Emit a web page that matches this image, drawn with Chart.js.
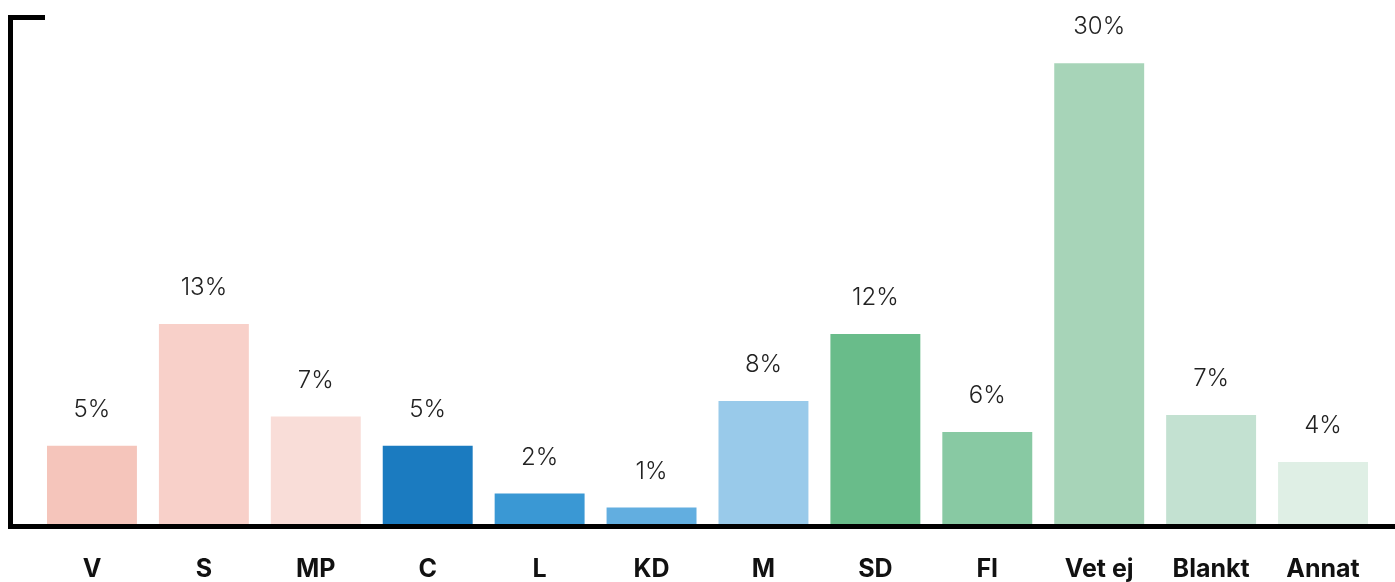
<!DOCTYPE html>
<html>
<head>
<meta charset="utf-8">
<script src="https://cdn.jsdelivr.net/npm/chart.js@4"></script>
<style>
  html, body { margin: 0; padding: 0; background: #fff; }
  #wrap { width: 1395px; height: 582px; position: relative; }
</style>
</head>
<body>
<div id="wrap"><canvas id="partyChart"></canvas></div>
<script>
// party categories and share of respondents (%)
const categories = ["V", "S", "MP", "C", "L", "KD", "M", "SD", "FI", "Vet ej", "Blankt", "Annat"];
const shares = [5.2, 13.1, 7.1, 5.2, 2.1, 1.2, 8.1, 12.45, 6.1, 30, 7.2, 4.15];
const barColors = ["#f5c5bb", "#f8d0c9", "#f9ddd8", "#1b7bc0", "#3a98d4", "#62aee0",
                   "#99caea", "#69bc8a", "#88c9a3", "#a7d4b8", "#c3e1d1", "#dfefe5"];
const yMax = 33;

// thick black frame: left line with small cap at top, plus the baseline
const framePlugin = {
  id: "frame",
  afterDatasetsDraw(chart) {
    const { ctx, chartArea } = chart;
    ctx.save();
    ctx.fillStyle = "#000";
    ctx.fillRect(8, chartArea.top - 2, 5, chartArea.bottom - chartArea.top + 5);
    ctx.fillRect(8, chartArea.top - 2, 37, 5);
    ctx.fillRect(8, chartArea.bottom - 2, chart.width - 8, 5);
    ctx.restore();
  }
};

// percentage labels above each bar
const valueLabels = {
  id: "valueLabels",
  afterDatasetsDraw(chart) {
    const { ctx } = chart;
    const meta = chart.getDatasetMeta(0);
    ctx.save();
    ctx.font = "300 24px Inter, 'Open Sans', sans-serif";
    ctx.fillStyle = "#222";
    ctx.textAlign = "center";
    ctx.textBaseline = "middle";
    meta.data.forEach((bar, i) => {
      ctx.fillText(Math.round(shares[i]) + "%", bar.x, bar.y - 36);
    });
    ctx.restore();
  }
};

const ctx = document.getElementById("partyChart").getContext("2d");
new Chart(ctx, {
  type: "bar",
  data: {
    labels: categories,
    datasets: [{
      data: shares,
      backgroundColor: barColors,
      borderWidth: 0,
      categoryPercentage: 1,
      barPercentage: 0.8036
    }]
  },
  options: {
    responsive: true,
    maintainAspectRatio: false,
    animation: false,
    layout: { padding: { left: 36, right: 16, top: 17, bottom: 0 } },
    plugins: {
      legend: { display: false },
      tooltip: { enabled: false }
    },
    scales: {
      x: {
        grid: { display: false, drawTicks: false },
        border: { display: false },
        afterFit(scale) { scale.height = 56; },
        ticks: {
          padding: 28,
          color: "#111",
          maxRotation: 0,
          font: { family: "Inter, 'Open Sans', sans-serif", size: 25, weight: "bold" }
        }
      },
      y: {
        display: false,
        min: 0,
        max: yMax
      }
    }
  },
  plugins: [framePlugin, valueLabels]
});
</script>
</body>
</html>
